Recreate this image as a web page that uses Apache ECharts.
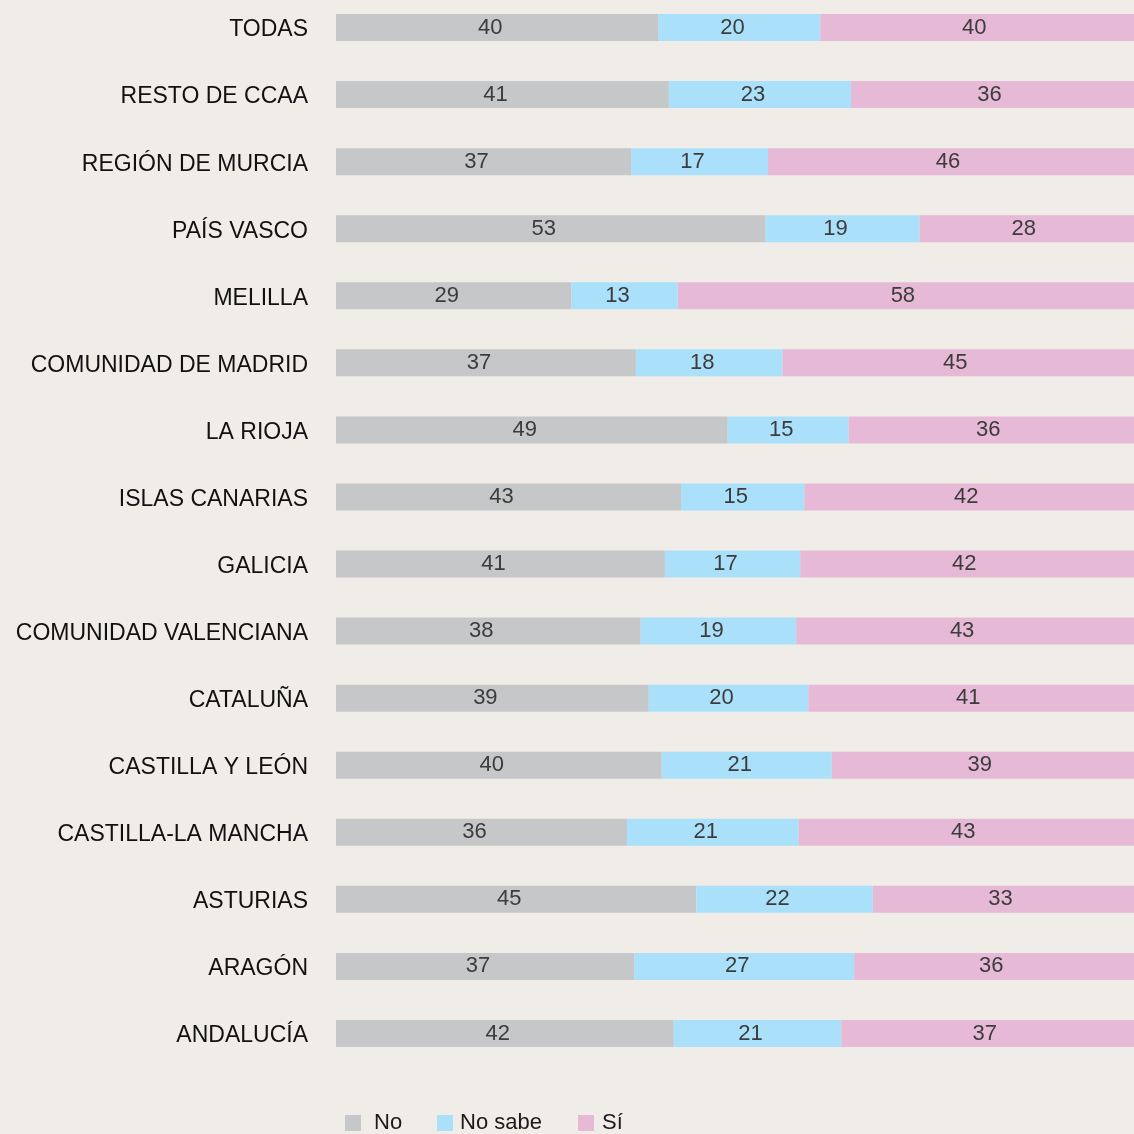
<!DOCTYPE html>
<html>
<head>
<meta charset="utf-8">
<title>Chart</title>
<script src="https://cdn.jsdelivr.net/npm/echarts@6/dist/echarts.min.js"></script>
<style>
  html, body { margin: 0; padding: 0; background: #f0ede8; overflow: hidden; }
  /* el gráfico sobresale un poco arriba y a la derecha, como en el original recortado */
  #chart { position: absolute; left: 0; top: -6px; width: 1142px; height: 1140px; }
</style>
</head>
<body>
<div id="chart"></div>
<script>
// regiones, de arriba a abajo
var regiones = ['TODAS', 'RESTO DE CCAA', 'REGIÓN DE MURCIA', 'PAÍS VASCO', 'MELILLA',
    'COMUNIDAD DE MADRID', 'LA RIOJA', 'ISLAS CANARIAS', 'GALICIA', 'COMUNIDAD VALENCIANA',
    'CATALUÑA', 'CASTILLA Y LEÓN', 'CASTILLA-LA MANCHA', 'ASTURIAS', 'ARAGÓN', 'ANDALUCÍA'];

// porcentajes (las etiquetas se muestran redondeadas)
var valNo     = [40.0, 41.3, 36.6, 53.3, 29.2, 37.2, 48.6, 42.8, 40.8, 37.8, 38.8, 40.4, 36.1, 44.7, 37.0, 41.9];
var valNoSabe = [20.1, 22.6, 17.0, 19.1, 13.2, 18.2, 15.0, 15.3, 16.8, 19.3, 19.8, 21.1, 21.3, 21.9, 27.3, 20.8];
var valSi     = [39.9, 36.1, 46.4, 27.6, 57.6, 44.6, 36.4, 41.9, 42.4, 42.9, 41.4, 38.5, 42.6, 33.4, 35.7, 37.3];

var nombres = ['No', 'No sabe', 'Sí'];
var colores = ['#c6c7c8', '#aae0fa', '#e6b9d6'];

function serie(nombre, datos, color){
    return {
        name: nombre,
        type: 'bar',
        stack: 'total',
        barWidth: 27,
        data: datos,
        itemStyle: { color: color },
        emphasis: { disabled: true },
        label: {
            show: true,
            position: 'inside',
            offset: [-7, 0],
            color: '#3c3c3c',
            fontSize: 22,
            fontFamily: 'Liberation Sans, Arial, sans-serif',
            formatter: function(p){ return Math.round(p.value); }
        }
    };
}

function leyenda(nombre, x, sep){
    return {
        data: [nombre],
        left: x,
        top: 1118,
        padding: 0,
        itemWidth: 16,
        itemHeight: 16,
        icon: 'rect',
        selectedMode: false,
        textStyle: {
            fontSize: 22,
            color: '#1a1a1a',
            fontFamily: 'Liberation Sans, Arial, sans-serif',
            padding: [0, 0, 0, sep]
        }
    };
}

var option = {
    backgroundColor: '#f0ede8',
    animation: false,
    grid: { left: 336, right: 0, top: 0, height: 1073 },
    legend: [leyenda('No', 345, 8), leyenda('No sabe', 437, 2), leyenda('Sí', 578, 3)],
    xAxis: {
        type: 'value',
        min: 0,
        max: 100,
        show: false
    },
    yAxis: {
        type: 'category',
        inverse: true,
        data: regiones,
        axisLine: { show: false },
        axisTick: { show: false },
        splitLine: { show: false },
        axisLabel: {
            margin: 28,
            fontSize: 23,
            color: '#111111',
            verticalAlign: 'top',
            lineHeight: 5,
            fontFamily: 'Liberation Sans, Arial, sans-serif'
        }
    },
    series: [
        serie(nombres[0], valNo, colores[0]),
        serie(nombres[1], valNoSabe, colores[1]),
        serie(nombres[2], valSi, colores[2])
    ]
};

var myChart = echarts.init(document.getElementById('chart'));
myChart.setOption(option);
</script>
</body>
</html>
